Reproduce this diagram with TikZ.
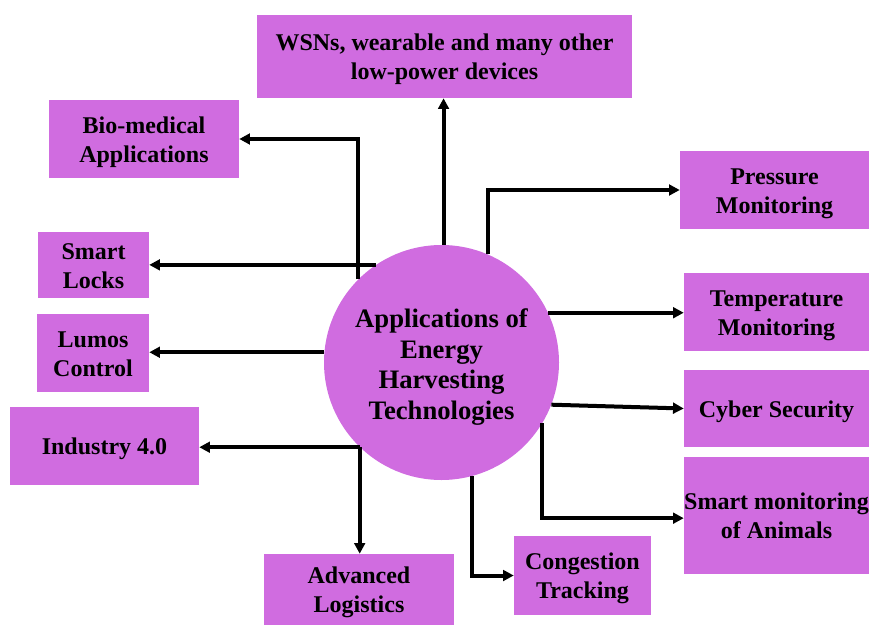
\documentclass[tikz,border=0pt]{standalone}
\usepackage{fontspec}
\setmainfont{Liberation Serif}
\usepackage{xcolor}
\usepackage{tikz}
\usetikzlibrary{arrows.meta}
\usetikzlibrary{positioning}

\definecolor{boxfill}{RGB}{208,108,224}
% text lowered a little inside its shape, as in the drawing
\newcommand{\boxlines}[1]{\raisebox{-2.25pt}[\height][\depth]{\begin{tabular}{@{}c@{}}#1\end{tabular}}}
\newcommand{\hublines}[1]{\raisebox{-3.75pt}[\height][\depth]{\begin{tabular}{@{}c@{}}#1\end{tabular}}}
\tikzset{
  appbox/.style={fill=boxfill, inner sep=0pt,
    font=\bfseries\fontsize{18}{21.6}\selectfont},
  hubnode/.style={circle, fill=boxfill, inner sep=0pt,
    minimum size=176.25pt, font=\bfseries\fontsize{20}{23}\selectfont},
  arr/.style={line width=3pt, -{Triangle[length=8pt,width=8pt]}}
}

\begin{document}
\begin{tikzpicture}[x=0.75pt,y=0.75pt,yscale=-1,xscale=1]
\useasboundingbox (0,0) rectangle (870,627);

%Shape: Circle
\node [hubnode] (hub) at (441.5,362.5) {\hublines{Applications of\\Energy\\Harvesting\\Technologies}};

%Shape: Rectangle
\node [appbox, minimum width=281.25pt, minimum height=62.25pt] (wsn) at (444.5,56.5) {\boxlines{WSNs, wearable and many other\\low-power devices}};
%Shape: Rectangle
\node [appbox, minimum width=142.5pt, minimum height=58.5pt] (bio) at (144,139) {\boxlines{Bio-medical\\Applications}};
%Shape: Rectangle
\node [appbox, minimum width=141.75pt, minimum height=58.5pt] (press) at (774.5,190) {\boxlines{Pressure\\Monitoring}};
%Shape: Rectangle
\node [appbox, minimum width=83.25pt, minimum height=49.5pt] (locks) at (93.5,265) {\boxlines{Smart\\Locks}};
%Shape: Rectangle
\node [appbox, minimum width=138.75pt, minimum height=58.5pt] (temp) at (776.5,312) {\boxlines{Temperature\\Monitoring}};
%Shape: Rectangle
\node [appbox, minimum width=84pt, minimum height=58.5pt] (lumos) at (93,353) {\boxlines{Lumos\\Control}};
%Shape: Rectangle
\node [appbox, minimum width=138.75pt, minimum height=57.75pt] (cyber) at (776.5,408.5) {\boxlines{Cyber Security}};
%Shape: Rectangle
\node [appbox, minimum width=141.75pt, minimum height=58.5pt] (ind) at (104.5,446) {\boxlines{Industry 4.0}};
%Shape: Rectangle
\node [appbox, minimum width=138.75pt, minimum height=87.75pt] (animals) at (776.5,515.5) {\boxlines{Smart monitoring\\of Animals}};
%Shape: Rectangle
\node [appbox, minimum width=142.5pt, minimum height=53.25pt] (logist) at (359,589.5) {\boxlines{Advanced\\Logistics}};
%Shape: Rectangle
\node [appbox, minimum width=102.75pt, minimum height=59.25pt] (cong) at (582.5,575.5) {\boxlines{Congestion\\Tracking}};

%Straight Lines
\draw [arr] (hub.89) -- (hub.89 |- wsn.south) ;
%Straight Lines
\draw [arr] (hub.135) |- (bio.east) ;
%Straight Lines
\draw [arr] (hub.124) -- (hub.124 -| locks.east) ;
%Straight Lines
\draw [arr] (hub.175) -- (hub.175 -| lumos.east) ;
%Straight Lines
\draw [arr] (hub.226) -- (hub.226 -| ind.east) ;
%Straight Lines
\draw [arr] (hub.226) -- (hub.226 |- logist.north) ;
%Straight Lines
\draw [arr] (hub.285) |- (cong.west) ;
%Straight Lines
\draw [arr] (hub.67) |- (press.west) ;
%Straight Lines
\draw [arr] (hub.25) -- (hub.25 -| temp.west) ;
%Straight Lines
\draw [arr] (hub.339) -- (cyber.west) ;
%Straight Lines
\draw [arr] (hub.329) |- ([yshift=2pt]animals.west) ;

\end{tikzpicture}
\end{document}
